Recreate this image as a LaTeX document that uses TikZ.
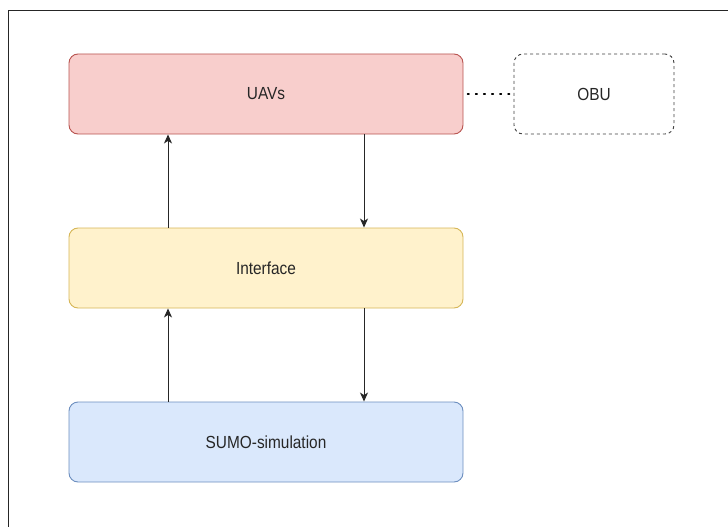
\documentclass[tikz,border=0pt]{standalone}
\usepackage{fontspec}
\setmainfont{Liberation Sans}[FakeStretch=0.88]
\usetikzlibrary{arrows.meta}
\definecolor{redfill}{HTML}{F8CECC}
\definecolor{redline}{HTML}{B85450}
\definecolor{yelfill}{HTML}{FFF2CC}
\definecolor{yelline}{HTML}{D6B656}
\definecolor{bluefill}{HTML}{DAE8FC}
\definecolor{blueline}{HTML}{6C8EBF}
\begin{document}
\begin{tikzpicture}[x=1pt,y=-1pt,
  box/.style={draw, rounded corners=9pt, minimum width=394pt, minimum height=80pt, inner sep=0pt, font=\fontsize{17.5pt}{20pt}\selectfont, text=black!85, line width=0.9pt},
  conn/.style={draw=black!85, line width=1pt, -{Stealth[length=9pt,width=8pt,inset=2.5pt]}}]
\useasboundingbox (0,0) rectangle (728,527);
\begin{scope}
\clip (0,0) rectangle (728,527);
\draw[line width=0.9pt, black!85] (8.5,10.5) rectangle (760,560);
\end{scope}
\node[box, fill=redfill, draw=redline] (uav) at (266,94) {UAVs};
\node[box, fill=yelfill, draw=yelline] (intf) at (266,268) {Interface};
\node[box, fill=bluefill, draw=blueline] (sumo) at (266,442) {SUMO-simulation};
\node[box, draw=black!75, dashed, minimum width=160pt, fill=white] (obu) at (594,94) {OBU};
\draw[line width=1.4pt, dash pattern=on 1.6pt off 6.5pt, line cap=round] (uav.east) ++(4,0) coordinate (d1) (d1) -- (obu.west);
\draw[conn] (intf.north -| 168,0) -- (uav.south -| 168,0);
\draw[conn] (uav.south -| 364,0) -- (intf.north -| 364,0);
\draw[conn] (sumo.north -| 168,0) -- (intf.south -| 168,0);
\draw[conn] (intf.south -| 364,0) -- (sumo.north -| 364,0);
\end{tikzpicture}
\end{document}
